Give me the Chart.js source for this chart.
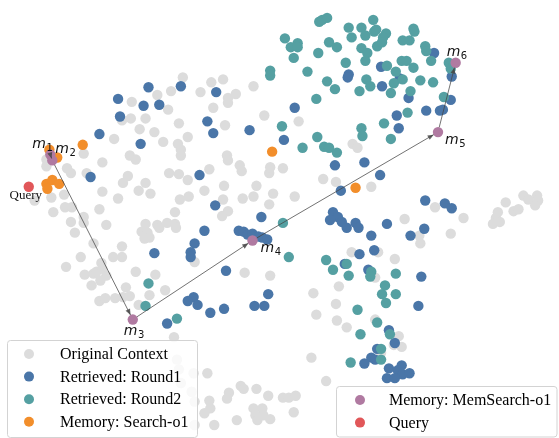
<!DOCTYPE html>
<html>
<head>
<meta charset="utf-8">
<script src="https://cdn.jsdelivr.net/npm/chart.js@4/dist/chart.umd.min.js"></script>
<style>
  html, body { margin: 0; padding: 0; background: #ffffff; }
  canvas { display: block; }
</style>
</head>
<body>
<canvas id="embed" width="559" height="438"></canvas>
<script>
// 2-D projection of context chunks (embedding units, y grows downward)
const originalContext = [
  [181,74],[210,79],[222,76],[253,83],[155,92],[169,88],[199,89],[227,95],[235,91],[129,99],
  [166,107],[212,105],[227,100],[119,118],[128,116],[143,116],[177,121],[224,123],[264,113],[137,127],
  [152,130],[186,135],[111,137],[161,140],[176,142],[179,148],[299,119],[354,142],[359,146],
  [80,152],[179,154],[226,154],[227,159],[127,154],[133,158],[99,161],[42,158],[42,165],[239,164],
  [241,170],[208,168],[269,172],[270,166],[283,167],[167,172],[177,173],[63,167],[67,172],[83,172],
  [125,175],[120,182],[143,182],[186,179],[223,185],[256,185],[99,191],[136,190],[148,193],[203,190],
  [253,196],[273,193],[115,198],[178,199],[187,196],[242,198],[60,194],[47,197],[30,200],[222,199],
  [324,178],[337,181],[373,186],[295,196],
  [61,207],[68,207],[96,209],[49,212],[173,212],[227,211],[269,204],[221,216],[67,222],[80,217],
  [80,223],[103,225],[143,224],[155,225],[157,228],[165,223],[173,224],[174,228],[71,233],[139,232],
  [145,233],[147,238],[142,239],[90,244],[119,247],
  [438,207],[467,218],[407,219],[510,202],[528,195],[533,199],[542,195],[543,200],[540,205],[518,211],
  [523,209],[502,212],[500,218],[497,224],[504,222],[454,234],[422,236],[423,244],
  [77,258],[110,258],[119,258],[62,268],[98,264],[133,273],[81,276],[90,275],[93,273],[99,270],
  [103,277],[153,276],[88,287],[97,282],[123,289],[163,292],[147,297],[193,263],[244,274],[270,277],
  [353,253],[380,253],[397,260],[377,279],[340,288],[314,295],
  [96,303],[102,300],[112,300],[120,299],[127,298],[136,307],[337,306],[317,317],[338,323],[348,330],
  [377,322],[172,340],
  [401,339],[396,348],[404,350],[383,356],[312,361],[327,385],[283,402],[289,402],[296,400],[294,417],
  [175,363],[177,373],[192,377],[206,377],[179,387],[190,396],[193,406],[208,405],[209,413],[203,418],
  [228,397],[226,403],[240,390],[243,393],[256,393],[268,400],[253,413],[262,413],[255,420],[263,420],
  [270,424],[257,425],[236,425],[193,430],[213,430]
];

const retrievedRound1 = [
  [146,84],[179,83],[215,89],[115,96],[141,103],[157,102],[117,114],[206,119],[212,131],[249,128],
  [96,132],[138,142],[87,176],[198,174],[214,205],[261,217],
  [437,49],[383,63],[350,71],[349,74],[384,83],[402,75],[411,95],[455,73],[454,97],[429,108],
  [443,108],[446,107],[399,113],[401,126],[295,105],[284,138],[336,164],[366,161],[382,174],[342,190],
  [428,200],[448,203],[455,208],
  [203,231],[238,231],[243,232],[247,235],[252,234],[258,237],[262,238],[267,240],
  [193,244],[189,253],[189,258],[152,254],[225,272],[268,296],[192,299],[186,303],[196,307],[223,311],
  [209,315],[254,308],[264,308],[165,326],
  [334,212],[339,217],[331,220],[343,222],[348,228],[357,223],[360,228],[389,224],[373,236],[413,236],
  [427,229],[376,251],[361,255],[346,265],[370,271],[424,278],[421,308],[391,333],[397,346],[379,352],
  [373,361],[377,363],[366,367],[391,372],[404,369],[400,374],[405,378],[412,377],[389,382],[397,382]
];

const retrievedRound2 = [
  [270,67],[270,72],[320,17],[323,15],[328,13],[375,15],[350,23],[363,23],[367,31],[376,27],
  [378,25],[388,29],[385,33],[416,24],[417,27],[285,34],[353,33],[298,39],[291,43],[298,43],
  [330,38],[338,43],[319,49],[363,44],[369,49],[379,42],[384,38],[405,36],[412,36],[428,42],
  [429,47],[294,54],[347,59],[367,57],[389,62],[404,57],[409,57],[416,64],[434,57],[398,68],
  [308,68],[328,78],[368,76],[372,83],[336,86],[361,88],[396,80],[405,76],[423,77],[436,79],
  [393,90],[413,88],[317,96],[447,94],[452,59],[454,65],[410,110],[386,121],[363,126],[364,134],
  [393,137],[282,124],[318,135],[303,146],[325,145],[330,146],[338,151],
  [146,285],[143,308],[175,321],[283,223],[289,258],
  [327,261],[334,271],[348,265],[350,277],[373,273],[372,278],[398,275],[387,287],[384,296],[398,296],
  [388,305],[359,312],[379,325],[362,337],[392,337],[383,352],[383,363],[352,366]
];

const memorySearchO1 = [
  [79,143],[272,150],[45,148],[53,156],[42,183],[48,179],[55,183],[43,188],[357,187]
];

// memory states m1..m6 of MemSearch-o1, visited in this order
const memoryMemSearchO1 = [
  [46,153],[48,159],[130,322],[252,241],[441,130],[459,59]
];
const memoryTags = ['1','2','3','4','5','6'];

const queryPoint = [[24,186]];

const seriesNames = [
  'Original Context', 'Retrieved: Round1', 'Retrieved: Round2',
  'Memory: Search-o1', 'Memory: MemSearch-o1', 'Query'
];
const seriesColors = ['#dcdcdc', '#4a76a8', '#55a0a2', '#f28e2b', '#b07aa1', '#e15759'];

const toXY = arr => arr.map(p => ({ x: p[0], y: p[1] }));
const seriesData = [originalContext, retrievedRound1, retrievedRound2, memorySearchO1, memoryMemSearchO1, queryPoint];

const datasets = seriesData.map((d, i) => ({
  label: seriesNames[i],
  data: toXY(d),
  backgroundColor: seriesColors[i],
  borderWidth: 0,
  pointRadius: 5.2,
  pointHoverRadius: 5.2,
  clip: false,
  order: seriesData.length - i
}));

// arrows between consecutive memory states plus the m_i and Query tags
const annotate = {
  id: 'annotate',
  afterDatasetsDraw(chart) {
    const { ctx, scales: { x, y } } = chart;
    const pts = memoryMemSearchO1.map(p => [x.getPixelForValue(p[0]), y.getPixelForValue(p[1])]);
    ctx.save();
    ctx.strokeStyle = 'rgba(70,70,70,0.85)';
    ctx.fillStyle = 'rgba(70,70,70,0.85)';
    ctx.lineWidth = 0.9;
    for (let i = 0; i < pts.length - 1; i++) {
      const [x0, y0] = pts[i], [x1, y1] = pts[i + 1];
      const len = Math.hypot(x1 - x0, y1 - y0);
      const ux = (x1 - x0) / len, uy = (y1 - y0) / len;
      const shrink = Math.min(5, len / 3);
      const sx = x0 + ux * shrink, sy = y0 + uy * shrink;
      const ex = x1 - ux * shrink, ey = y1 - uy * shrink;
      ctx.beginPath();
      ctx.moveTo(sx, sy);
      ctx.lineTo(ex, ey);
      ctx.stroke();
      const hl = 6, hw = 2.5;
      ctx.beginPath();
      ctx.moveTo(ex, ey);
      ctx.lineTo(ex - ux * hl - uy * hw, ey - uy * hl + ux * hw);
      ctx.lineTo(ex - ux * hl + uy * hw, ey - uy * hl - ux * hw);
      ctx.closePath();
      ctx.fill();
    }
    // tag offsets relative to each memory point: [dx of "m", dy of baseline]
    const tagOffsets = [[-18,-7],[3,-7],[-9,15],[8,12],[7,12],[-9,-7]];
    ctx.fillStyle = '#111';
    ctx.textBaseline = 'alphabetic';
    ctx.textAlign = 'left';
    pts.forEach((p, i) => {
      const tx = p[0] + tagOffsets[i][0], ty = p[1] + tagOffsets[i][1];
      ctx.font = 'italic 14px "DejaVu Sans"';
      ctx.fillText('m', tx, ty);
      const w = ctx.measureText('m').width;
      ctx.font = '10px "DejaVu Sans"';
      ctx.fillText(memoryTags[i], tx + w + 0.5, ty + 3);
    });
    const q = queryPoint[0];
    ctx.font = '13px "Liberation Serif"';
    ctx.textAlign = 'center';
    ctx.fillText('Query', x.getPixelForValue(q[0]) - 3, y.getPixelForValue(q[1]) + 12);
    ctx.restore();
  }
};

// two framed legend boxes: context/retrieval series at left, memory/query at right
const splitLegend = {
  id: 'splitLegend',
  afterDraw(chart) {
    const { ctx } = chart;
    const boxes = [
      { items: [0, 1, 2, 3], x: 7.5, y: 340.5, w: 190, h: 97, mx: 29, tx: 60, rowY: 354 },
      { items: [4, 5], x: 336.5, y: 386.5, w: 220.5, h: 50.5, mx: 360, tx: 389, rowY: 400 }
    ];
    const rowH = 22.6;
    ctx.save();
    boxes.forEach(b => {
      ctx.beginPath();
      ctx.roundRect(b.x, b.y, b.w, b.h, 3);
      ctx.fillStyle = 'rgba(255,255,255,0.82)';
      ctx.fill();
      ctx.strokeStyle = '#d3d3d3';
      ctx.lineWidth = 1;
      ctx.stroke();
      b.items.forEach((idx, k) => {
        const cy = b.rowY + k * rowH;
        ctx.beginPath();
        ctx.arc(b.mx, cy, 5, 0, Math.PI * 2);
        ctx.fillStyle = seriesColors[idx];
        ctx.fill();
        ctx.fillStyle = '#000';
        ctx.font = '16px "Liberation Serif"';
        ctx.textAlign = 'left';
        ctx.textBaseline = 'middle';
        ctx.fillText(seriesNames[idx], b.tx, cy + 1);
      });
    });
    ctx.restore();
  }
};

new Chart(document.getElementById('embed'), {
  type: 'scatter',
  data: { datasets },
  options: {
    responsive: false,
    animation: false,
    devicePixelRatio: 1,
    layout: { padding: 0 },
    events: [],
    plugins: { legend: { display: false }, tooltip: { enabled: false } },
    scales: {
      x: { type: 'linear', min: 0, max: 559, display: false },
      y: { type: 'linear', min: 0, max: 438, reverse: true, display: false }
    }
  },
  plugins: [annotate, splitLegend]
});
</script>
</body>
</html>
